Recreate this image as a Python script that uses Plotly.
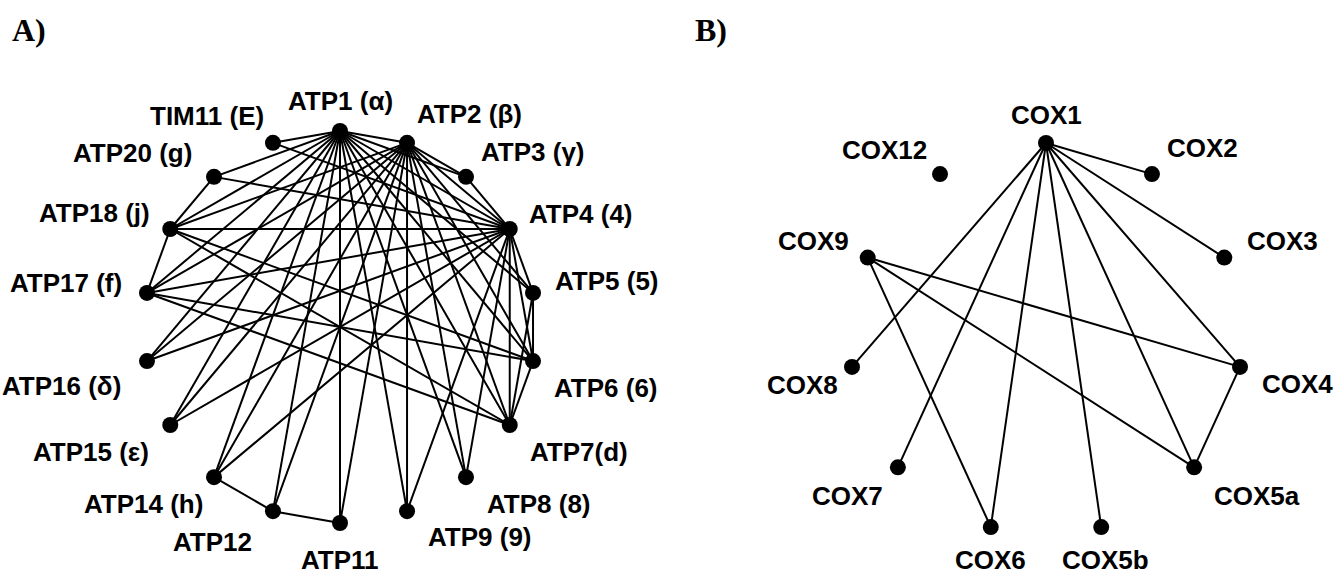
import numpy as np
import plotly.graph_objects as go

# ---- Panel A: ATP synthase subunit interaction network ----
atp_nodes = ["ATP1", "ATP2", "ATP3", "ATP4", "ATP5", "ATP6", "ATP7", "ATP8", "ATP9",
             "ATP11", "ATP12", "ATP14", "ATP15", "ATP16", "ATP17", "ATP18", "ATP20", "TIM11"]
atp_labels = ["ATP1 (α)", "ATP2 (β)", "ATP3 (γ)", "ATP4 (4)", "ATP5 (5)", "ATP6 (6)", "ATP7(d)",
              "ATP8 (8)", "ATP9 (9)", "ATP11", "ATP12", "ATP14 (h)", "ATP15 (ε)", "ATP16 (δ)",
              "ATP17 (f)", "ATP18 (j)", "ATP20 (g)", "TIM11 (E)"]
atp_edges = [
    ("ATP1", "TIM11"), ("ATP1", "ATP20"), ("ATP1", "ATP18"), ("ATP1", "ATP17"), ("ATP1", "ATP16"),
    ("ATP1", "ATP15"), ("ATP1", "ATP14"), ("ATP1", "ATP12"), ("ATP1", "ATP11"), ("ATP1", "ATP9"),
    ("ATP1", "ATP8"), ("ATP1", "ATP7"), ("ATP1", "ATP6"), ("ATP1", "ATP5"), ("ATP1", "ATP4"),
    ("ATP1", "ATP2"), ("ATP1", "ATP3"),
    ("ATP2", "ATP3"), ("ATP2", "ATP4"), ("ATP2", "ATP5"), ("ATP2", "ATP6"), ("ATP2", "ATP7"),
    ("ATP2", "ATP8"), ("ATP2", "ATP9"), ("ATP2", "ATP11"), ("ATP2", "ATP12"), ("ATP2", "ATP14"),
    ("ATP2", "ATP15"), ("ATP2", "ATP16"), ("ATP2", "ATP17"), ("ATP2", "ATP18"),
    ("ATP4", "ATP3"), ("ATP4", "ATP5"), ("ATP4", "ATP6"), ("ATP4", "ATP7"), ("ATP4", "ATP8"),
    ("ATP4", "ATP9"), ("ATP4", "ATP14"), ("ATP4", "ATP15"), ("ATP4", "ATP16"), ("ATP4", "ATP17"),
    ("ATP4", "ATP18"), ("ATP4", "ATP20"), ("ATP4", "TIM11"),
    ("ATP5", "ATP6"), ("ATP5", "ATP7"), ("ATP6", "ATP7"),
    ("ATP6", "ATP17"), ("ATP6", "ATP18"), ("ATP7", "ATP17"), ("ATP7", "ATP18"),
    ("ATP18", "ATP20"), ("ATP18", "ATP17"), ("ATP14", "ATP12"), ("ATP12", "ATP11"),
]

# ---- Panel B: cytochrome c oxidase subunit interaction network ----
cox_nodes = ["COX1", "COX2", "COX3", "COX4", "COX5a", "COX5b", "COX6", "COX7", "COX8", "COX9", "COX12"]
cox_labels = cox_nodes
cox_edges = [
    ("COX1", "COX2"), ("COX1", "COX3"), ("COX1", "COX4"), ("COX1", "COX5a"), ("COX1", "COX5b"),
    ("COX1", "COX6"), ("COX1", "COX7"), ("COX1", "COX8"),
    ("COX9", "COX4"), ("COX9", "COX5a"), ("COX9", "COX6"), ("COX4", "COX5a"),
]

# label placement (pixel offsets from each node, and horizontal anchor)
atp_label_style = {
    "ATP1": (0, -30, "center"), "ATP2": (8, -29, "left"), "ATP3": (13, -25, "left"),
    "ATP4": (17, -15, "left"), "ATP5": (20, -12, "left"), "ATP6": (19, 27, "left"),
    "ATP7": (18, 27, "left"), "ATP8": (19, 27, "left"), "ATP9": (19, 26, "left"),
    "ATP11": (0, 37, "center"), "ATP12": (-19, 31, "right"), "ATP14": (-9, 27, "right"),
    "ATP15": (-19, 27, "right"), "ATP16": (-24, 25, "right"), "ATP17": (-23, -10, "right"),
    "ATP18": (-18, -16, "right"), "ATP20": (-20, -24, "right"), "TIM11": (-7, -27, "right"),
}
cox_label_style = {
    "COX1": (0, -28, "center"), "COX2": (13, -26, "left"), "COX3": (21, -17, "left"),
    "COX4": (20, 17, "left"), "COX5a": (18, 29, "left"), "COX5b": (4, 33, "center"),
    "COX6": (0, 33, "center"), "COX7": (-13, 29, "right"), "COX8": (-12, 18, "right"),
    "COX9": (-17, -17, "right"), "COX12": (-11, -24, "right"),
}

W, H = 1339, 576
R_PX = 196.0                      # circle radius in pixels
CENTER_A = (340.0, 327.0)         # pixel centre of each circle
CENTER_B = (1046.0, 339.0)


def circle_layout(nodes):
    n = len(nodes)
    ang = np.pi / 2 - 2 * np.pi * np.arange(n) / n
    return {name: (np.cos(a), np.sin(a)) for name, a in zip(nodes, ang)}


def axis_ranges(center, x0_px, x1_px):
    cx, cy = center
    xr = [(x0_px - cx) / R_PX, (x1_px - cx) / R_PX]
    yr = [-(H - cy) / R_PX, cy / R_PX]
    return xr, yr


fig = go.Figure()
annotations = []
font = dict(family="Arial, Liberation Sans, sans-serif", size=26, color="black", weight="bold")

panels = [
    (atp_nodes, atp_labels, atp_edges, atp_label_style, "x", "y"),
    (cox_nodes, cox_labels, cox_edges, cox_label_style, "x2", "y2"),
]
for nodes, labels, edges, style, xa, ya in panels:
    pos = circle_layout(nodes)
    ex, ey = [], []
    for a, b in edges:
        ex += [pos[a][0], pos[b][0], None]
        ey += [pos[a][1], pos[b][1], None]
    fig.add_trace(go.Scatter(x=ex, y=ey, mode="lines", line=dict(color="black", width=2),
                             hoverinfo="skip", showlegend=False, xaxis=xa, yaxis=ya))
    fig.add_trace(go.Scatter(x=[pos[n][0] for n in nodes], y=[pos[n][1] for n in nodes],
                             mode="markers", marker=dict(color="black", size=16),
                             text=labels, hoverinfo="text", showlegend=False, xaxis=xa, yaxis=ya))
    for n, lab in zip(nodes, labels):
        dx, dy, anchor = style[n]
        annotations.append(dict(x=pos[n][0], y=pos[n][1], xref=xa, yref=ya, text=lab,
                                showarrow=False, xanchor=anchor, yanchor="middle",
                                xshift=dx, yshift=-dy, font=font))

for txt, xpx in [("A)", 10), ("B)", 693)]:
    annotations.append(dict(x=xpx / W, y=1 - 30 / H, xref="paper", yref="paper", text=txt,
                            showarrow=False, xanchor="left", yanchor="middle",
                            font=dict(family="Liberation Serif, Times New Roman, serif", size=32,
                                      color="black", weight="bold")))

xa_r, ya_r = axis_ranges(CENTER_A, 0, W / 2)
xb_r, yb_r = axis_ranges(CENTER_B, W / 2, W)
hidden = dict(visible=False, showgrid=False, zeroline=False, fixedrange=True)
fig.update_layout(
    width=W, height=H, margin=dict(l=0, r=0, t=0, b=0),
    paper_bgcolor="white", plot_bgcolor="white",
    xaxis=dict(domain=[0, 0.5], range=xa_r, **hidden),
    yaxis=dict(domain=[0, 1], range=ya_r, **hidden),
    xaxis2=dict(domain=[0.5, 1], range=xb_r, anchor="y2", **hidden),
    yaxis2=dict(domain=[0, 1], range=yb_r, anchor="x2", **hidden),
    annotations=annotations,
)
fig.write_html("out.html")
